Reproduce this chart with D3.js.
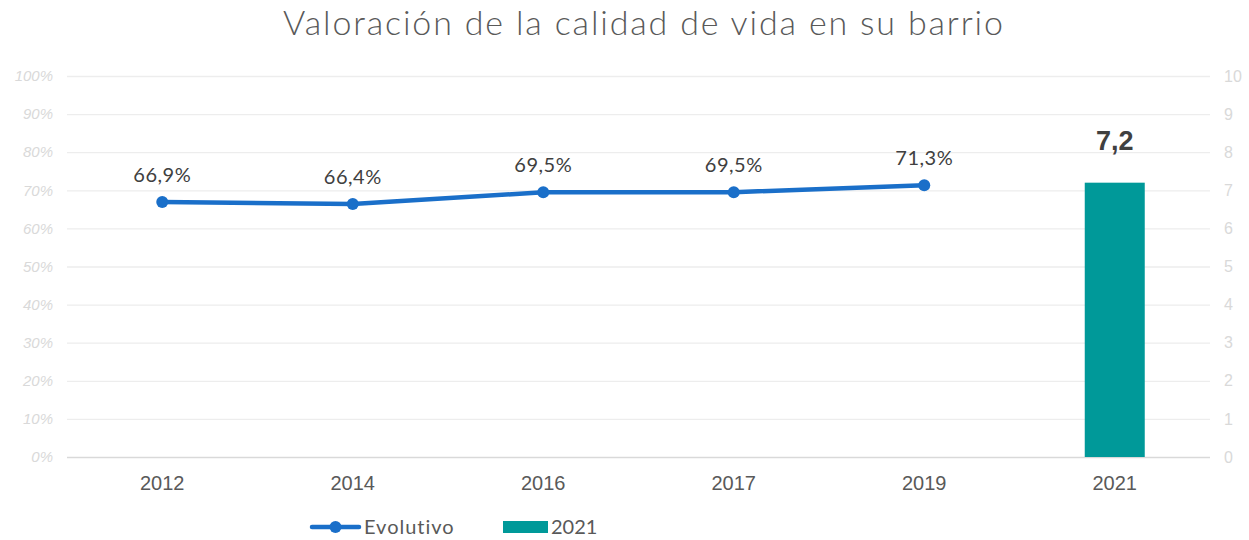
<!DOCTYPE html>
<html>
<head>
<meta charset="utf-8">
<script src="https://cdn.jsdelivr.net/npm/d3@7"></script>
<style>
	body { margin: 0; background: #fff; }
	svg { display: block; }
</style>
</head>
<body>
<div id="chart"></div>
<script>
const categories = ['2012', '2014', '2016', '2017', '2019', '2021'];
const line_years = ['2012', '2014', '2016', '2017', '2019'];
const line_values = [66.9, 66.4, 69.5, 69.5, 71.3];
const bar_years = ['2021'];
const bar_values = [7.2];
const left_ticks = [0, 10, 20, 30, 40, 50, 60, 70, 80, 90, 100];
const right_ticks = [0, 1, 2, 3, 4, 5, 6, 7, 8, 9, 10];

const WIDTH = 1249;
const HEIGHT = 540;
const margin = {top: 76, right: 39, bottom: 83, left: 67};

const LINE_COLOR = '#1a6fc9';
const BAR_COLOR = '#009999';
const TEXT_COLOR = '#404040';
const FONT_GOTHIC = '"Lato", "DejaVu Sans", sans-serif';
const FONT_ARIAL = '"Liberation Sans", Arial, sans-serif';

const svg = d3.select('#chart')
	.append('svg')
	.attr('width', WIDTH)
	.attr('height', HEIGHT);

const x = d3.scaleBand()
	.domain(categories)
	.range([margin.left, WIDTH - margin.right]);

const yLeft = d3.scaleLinear()
	.domain([0, 100])
	.range([HEIGHT - margin.bottom, margin.top]);

const yRight = d3.scaleLinear()
	.domain([0, 10])
	.range([HEIGHT - margin.bottom, margin.top]);

// title
svg.append('text')
	.attr('x', 643)
	.attr('y', 35)
	.attr('text-anchor', 'middle')
	.attr('font-family', FONT_GOTHIC)
	.attr('font-weight', 300)
	.attr('font-size', 34)
	.attr('textLength', 720)
	.attr('lengthAdjust', 'spacing')
	.attr('fill', '#595959')
	.text('Valoración de la calidad de vida en su barrio');

// grid
svg.append('g')
	.selectAll('line')
	.data(left_ticks)
	.join('line')
	.attr('x1', margin.left)
	.attr('x2', WIDTH - margin.right)
	.attr('y1', d => yLeft(d) + 0.5)
	.attr('y2', d => yLeft(d) + 0.5)
	.attr('stroke', d => d === 0 ? '#d9d9d9' : '#ededed')
	.attr('stroke-width', 1.3);

// left axis
svg.append('g')
	.selectAll('text')
	.data(left_ticks)
	.join('text')
	.attr('x', 53)
	.attr('y', d => yLeft(d))
	.attr('dy', '0.35em')
	.attr('text-anchor', 'end')
	.attr('font-family', FONT_ARIAL)
	.attr('font-style', 'italic')
	.attr('font-size', 15)
	.attr('fill', '#d9d9d9')
	.text(d => d + '%');

// right axis
svg.append('g')
	.selectAll('text')
	.data(right_ticks)
	.join('text')
	.attr('x', 1224)
	.attr('y', d => yRight(d))
	.attr('dy', '0.35em')
	.attr('text-anchor', 'start')
	.attr('font-family', FONT_ARIAL)
	.attr('font-size', 16)
	.attr('fill', '#d9d9d9')
	.text(d => d);

// x axis labels
svg.append('g')
	.selectAll('text')
	.data(categories)
	.join('text')
	.attr('x', d => x(d) + x.bandwidth() / 2)
	.attr('y', 483)
	.attr('dy', '0.35em')
	.attr('text-anchor', 'middle')
	.attr('font-family', FONT_ARIAL)
	.attr('font-size', 20)
	.attr('fill', '#595959')
	.text(d => d);

// bars
const bar_width = 60;
const bars = bar_years.map((year, i) => ({year: year, value: bar_values[i]}));

svg.append('g')
	.selectAll('rect')
	.data(bars)
	.join('rect')
	.attr('x', d => x(d.year) + x.bandwidth() / 2 - bar_width / 2)
	.attr('y', d => yRight(d.value))
	.attr('width', bar_width)
	.attr('height', d => yRight(0) - yRight(d.value))
	.attr('fill', BAR_COLOR);

svg.append('g')
	.selectAll('text')
	.data(bars)
	.join('text')
	.attr('x', d => x(d.year) + x.bandwidth() / 2)
	.attr('y', d => yRight(d.value) - 33)
	.attr('text-anchor', 'middle')
	.attr('font-family', FONT_ARIAL)
	.attr('font-weight', 'bold')
	.attr('font-size', 27)
	.attr('fill', TEXT_COLOR)
	.text(d => String(d.value).replace('.', ','));

// line
const points = line_years.map((year, i) => ({year: year, value: line_values[i]}));

const lineGenerator = d3.line()
	.x(d => x(d.year) + x.bandwidth() / 2)
	.y(d => yLeft(d.value));

svg.append('path')
	.attr('d', lineGenerator(points))
	.attr('fill', 'none')
	.attr('stroke', LINE_COLOR)
	.attr('stroke-width', 4.5)
	.attr('stroke-linejoin', 'round')
	.attr('stroke-linecap', 'round');

svg.append('g')
	.selectAll('circle')
	.data(points)
	.join('circle')
	.attr('cx', d => x(d.year) + x.bandwidth() / 2)
	.attr('cy', d => yLeft(d.value))
	.attr('r', 6)
	.attr('fill', LINE_COLOR);

svg.append('g')
	.selectAll('text')
	.data(points)
	.join('text')
	.attr('x', d => x(d.year) + x.bandwidth() / 2)
	.attr('y', d => yLeft(d.value) - 20)
	.attr('text-anchor', 'middle')
	.attr('font-family', FONT_GOTHIC)
	.attr('font-size', 20)
	.attr('letter-spacing', 0.5)
	.attr('fill', TEXT_COLOR)
	.text(d => d.value.toFixed(1).replace('.', ',') + '%');

// legend
const legend = svg.append('g');

legend.append('line')
	.attr('x1', 312)
	.attr('x2', 359)
	.attr('y1', 527)
	.attr('y2', 527)
	.attr('stroke', LINE_COLOR)
	.attr('stroke-width', 4.5)
	.attr('stroke-linecap', 'round');

legend.append('circle')
	.attr('cx', 335.5)
	.attr('cy', 527)
	.attr('r', 6)
	.attr('fill', LINE_COLOR);

legend.append('text')
	.attr('x', 364)
	.attr('y', 527)
	.attr('dy', '0.35em')
	.attr('font-family', FONT_GOTHIC)
	.attr('font-size', 20)
	.attr('letter-spacing', 1)
	.attr('fill', '#595959')
	.text('Evolutivo');

legend.append('rect')
	.attr('x', 503)
	.attr('y', 521)
	.attr('width', 45)
	.attr('height', 12)
	.attr('fill', BAR_COLOR);

legend.append('text')
	.attr('x', 551)
	.attr('y', 527)
	.attr('dy', '0.35em')
	.attr('font-family', FONT_GOTHIC)
	.attr('font-size', 20)
	.attr('fill', '#595959')
	.text('2021');
</script>
</body>
</html>
